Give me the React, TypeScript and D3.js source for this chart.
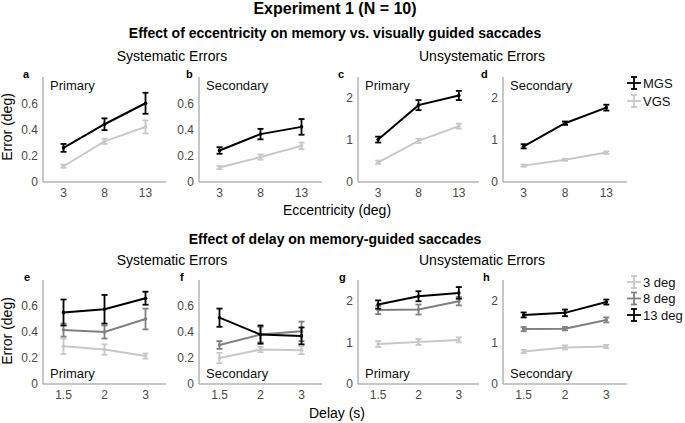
import React from 'react';
import * as d3 from 'd3';

// ---------- data ----------
const eccentricities = [3, 8, 13];
const eccTicks = [3, 8, 13];
const delayLabels = ['1.5', '2', '3'];
const eccSeriesNames = ['MGS', 'VGS'];
const delaySeriesNames = ['3 deg', '8 deg', '13 deg'];
const sysTicks = [0, 0.2, 0.4, 0.6];
const unsysTicks = [0, 1, 2];

// Top row: effect of eccentricity (MGS vs VGS)
const aMGS = [0.26, 0.44, 0.6];
const aMGSErr = [0.03, 0.045, 0.08];
const aVGS = [0.12, 0.31, 0.42];
const aVGSErr = [0.012, 0.02, 0.05];

const bMGS = [0.24, 0.365, 0.42];
const bMGSErr = [0.025, 0.04, 0.06];
const bVGS = [0.11, 0.19, 0.275];
const bVGSErr = [0.012, 0.02, 0.025];

const cMGS = [1.01, 1.83, 2.06];
const cMGSErr = [0.07, 0.12, 0.11];
const cVGS = [0.47, 0.98, 1.33];
const cVGSErr = [0.04, 0.05, 0.06];

const dMGS = [0.85, 1.4, 1.77];
const dMGSErr = [0.05, 0.04, 0.07];
const dVGS = [0.39, 0.53, 0.7];
const dVGSErr = [0.025, 0.025, 0.03];

// Bottom row: effect of delay (3, 8, 13 deg)
const e3 = [0.29, 0.265, 0.215];
const e3Err = [0.06, 0.04, 0.02];
const e8 = [0.415, 0.4, 0.5];
const e8Err = [0.05, 0.05, 0.08];
const e13 = [0.55, 0.575, 0.66];
const e13Err = [0.1, 0.11, 0.05];

const f3 = [0.2, 0.265, 0.26];
const f3Err = [0.04, 0.02, 0.03];
const f8 = [0.3, 0.38, 0.405];
const f8Err = [0.03, 0.06, 0.075];
const f13 = [0.51, 0.38, 0.37];
const f13Err = [0.07, 0.07, 0.065];

const g3 = [0.96, 1.01, 1.06];
const g3Err = [0.07, 0.07, 0.06];
const g8 = [1.78, 1.79, 1.99];
const g8Err = [0.1, 0.12, 0.1];
const g13 = [1.91, 2.11, 2.19];
const g13Err = [0.1, 0.12, 0.14];

const h3 = [0.78, 0.88, 0.9];
const h3Err = [0.04, 0.05, 0.04];
const h8 = [1.32, 1.33, 1.54];
const h8Err = [0.05, 0.04, 0.06];
const h13 = [1.66, 1.71, 1.97];
const h13Err = [0.06, 0.08, 0.06];

// ---------- styles ----------
const FONT = "'Liberation Sans', Arial, Helvetica, sans-serif";
const AXIS = '#8f8f8f';
const TICKTXT = '#4a4a4a';
const BLACK = '#000000';
const MID = '#808080';
const LIGHT = '#c8c8c8';

type Series = { name: string; color: string; vals: number[]; errs: number[] };
type Panel = {
  letter: string;
  letterX: number;
  x0: number;
  x1: number;
  top: number;
  bottom: number;
  ymax: number;
  yticks: number[];
  kind: 'ecc' | 'delay';
  label: string;
  labelTop: boolean;
  series: Series[];
};

const eccColors = [BLACK, LIGHT];
const delayColors = [LIGHT, MID, BLACK];

const mkEcc = (mgs: number[], mgsE: number[], vgs: number[], vgsE: number[]): Series[] => [
  { name: eccSeriesNames[1], color: eccColors[1], vals: vgs, errs: vgsE },
  { name: eccSeriesNames[0], color: eccColors[0], vals: mgs, errs: mgsE },
];
const mkDelay = (s3: number[], s3e: number[], s8: number[], s8e: number[], s13: number[], s13e: number[]): Series[] => [
  { name: delaySeriesNames[0], color: delayColors[0], vals: s3, errs: s3e },
  { name: delaySeriesNames[1], color: delayColors[1], vals: s8, errs: s8e },
  { name: delaySeriesNames[2], color: delayColors[2], vals: s13, errs: s13e },
];

const colsX = [
  [43, 166],
  [199, 322],
  [358, 479],
  [503, 627],
];
const topRow = { top: 77, bottom: 182 };
const botRow = { top: 280, bottom: 384 };

const panels: Panel[] = [
  { letter: 'a', letterX: 23, x0: colsX[0][0], x1: colsX[0][1], ...topRow, ymax: 0.8, yticks: sysTicks, kind: 'ecc', label: 'Primary', labelTop: true, series: mkEcc(aMGS, aMGSErr, aVGS, aVGSErr) },
  { letter: 'b', letterX: 186, x0: colsX[1][0], x1: colsX[1][1], ...topRow, ymax: 0.8, yticks: sysTicks, kind: 'ecc', label: 'Secondary', labelTop: true, series: mkEcc(bMGS, bMGSErr, bVGS, bVGSErr) },
  { letter: 'c', letterX: 338, x0: colsX[2][0], x1: colsX[2][1], ...topRow, ymax: 2.5, yticks: unsysTicks, kind: 'ecc', label: 'Primary', labelTop: true, series: mkEcc(cMGS, cMGSErr, cVGS, cVGSErr) },
  { letter: 'd', letterX: 481, x0: colsX[3][0], x1: colsX[3][1], ...topRow, ymax: 2.5, yticks: unsysTicks, kind: 'ecc', label: 'Secondary', labelTop: true, series: mkEcc(dMGS, dMGSErr, dVGS, dVGSErr) },
  { letter: 'e', letterX: 24, x0: colsX[0][0], x1: colsX[0][1], ...botRow, ymax: 0.8, yticks: sysTicks, kind: 'delay', label: 'Primary', labelTop: false, series: mkDelay(e3, e3Err, e8, e8Err, e13, e13Err) },
  { letter: 'f', letterX: 180, x0: colsX[1][0], x1: colsX[1][1], ...botRow, ymax: 0.8, yticks: sysTicks, kind: 'delay', label: 'Secondary', labelTop: false, series: mkDelay(f3, f3Err, f8, f8Err, f13, f13Err) },
  { letter: 'g', letterX: 339, x0: colsX[2][0], x1: colsX[2][1], ...botRow, ymax: 2.5, yticks: unsysTicks, kind: 'delay', label: 'Primary', labelTop: false, series: mkDelay(g3, g3Err, g8, g8Err, g13, g13Err) },
  { letter: 'h', letterX: 483, x0: colsX[3][0], x1: colsX[3][1], ...botRow, ymax: 2.5, yticks: unsysTicks, kind: 'delay', label: 'Secondary', labelTop: false, series: mkDelay(h3, h3Err, h8, h8Err, h13, h13Err) },
];

const fmtTick = (v: number) => (v === 0 ? '0' : d3.format('~g')(v));

function PanelView({ p }: { p: Panel }) {
  const y = d3.scaleLinear().domain([0, p.ymax]).range([p.bottom, p.top]);
  const xEcc = d3.scaleLinear().domain([0.5, 15.5]).range([p.x0, p.x1]);
  const xDelay = d3.scaleLinear().domain([0.5, 3.5]).range([p.x0, p.x1]);
  const xs: number[] =
    p.kind === 'ecc' ? eccentricities.map((e) => xEcc(e)) : delayLabels.map((_, i) => xDelay(i + 1));
  const tickXs = p.kind === 'ecc' ? eccTicks.map((e) => xEcc(e)) : delayLabels.map((_, i) => xDelay(i + 1));
  const tickLabels = p.kind === 'ecc' ? eccTicks.map(String) : delayLabels;
  const line = d3
    .line<number>()
    .x((_, i) => xs[i])
    .y((v) => y(v));
  const cap = 3;
  const labelY = p.labelTop ? p.top + 13 : p.bottom - 6;
  return (
    <g>
      <line x1={p.x0} x2={p.x0} y1={p.top} y2={p.bottom} stroke={AXIS} strokeWidth={1} />
      <line x1={p.x0} x2={p.x1} y1={p.bottom} y2={p.bottom} stroke={AXIS} strokeWidth={1} />
      {p.yticks.map((t) => (
        <text key={'y' + t} x={p.x0 - 5} y={y(t)} dy="0.36em" textAnchor="end" fontSize={12} fill={TICKTXT} fontFamily={FONT}>
          {fmtTick(t)}
        </text>
      ))}
      {tickXs.map((tx, i) => (
        <text key={'x' + i} x={tx} y={p.bottom + 15} textAnchor="middle" fontSize={12} fill={TICKTXT} fontFamily={FONT}>
          {tickLabels[i]}
        </text>
      ))}
      <text x={p.letterX} y={p.top + 1} fontSize={11} fontWeight="bold" fontFamily={FONT} fill="#000">
        {p.letter}
      </text>
      <text x={p.x0 + 7} y={labelY} fontSize={13} fontFamily={FONT} fill="#111">
        {p.label}
      </text>
      {p.series.map((s) => (
        <g key={s.name}>
          <path d={line(s.vals) || ''} fill="none" stroke={s.color} strokeWidth={2} />
          {s.vals.map((v, i) => (
            <g key={i} stroke={s.color} strokeWidth={1.8}>
              <line x1={xs[i]} x2={xs[i]} y1={y(v - s.errs[i])} y2={y(v + s.errs[i])} />
              <line x1={xs[i] - cap} x2={xs[i] + cap} y1={y(v - s.errs[i])} y2={y(v - s.errs[i])} />
              <line x1={xs[i] - cap} x2={xs[i] + cap} y1={y(v + s.errs[i])} y2={y(v + s.errs[i])} />
              <circle cx={xs[i]} cy={y(v)} r={1.8} fill={s.color} stroke="none" />
            </g>
          ))}
        </g>
      ))}
    </g>
  );
}

function LegendItem({ x, y, color, label }: { x: number; y: number; color: string; label: string }) {
  const mid = x + 7;
  return (
    <g>
      <g stroke={color} strokeWidth={1.8}>
        <line x1={x} x2={x + 14} y1={y} y2={y} />
        <line x1={mid} x2={mid} y1={y - 6} y2={y + 6} />
        <line x1={mid - 3} x2={mid + 3} y1={y - 6} y2={y - 6} />
        <line x1={mid - 3} x2={mid + 3} y1={y + 6} y2={y + 6} />
      </g>
      <text x={x + 16} y={y} dy="0.36em" fontSize={13} fontFamily={FONT} fill="#111">
        {label}
      </text>
    </g>
  );
}

export default function App() {
  const W = 685;
  const H = 423;
  const cx = 335;
  return (
    <svg width={W} height={H} style={{ position: 'absolute', left: 0, top: 0, background: '#fff' }}>
      <rect width={W} height={H} fill="#fff" />
      <text x={cx} y={14} textAnchor="middle" fontSize={16} fontWeight="bold" fontFamily={FONT}>
        Experiment 1 (N = 10)
      </text>
      <text x={cx} y={38} textAnchor="middle" fontSize={14} fontWeight="bold" fontFamily={FONT}>
        Effect of eccentricity on memory vs. visually guided saccades
      </text>
      <text x={172} y={61} textAnchor="middle" fontSize={14} fontFamily={FONT}>
        Systematic Errors
      </text>
      <text x={482} y={61} textAnchor="middle" fontSize={14} fontFamily={FONT}>
        Unsystematic Errors
      </text>
      <text x={337} y={215} textAnchor="middle" fontSize={14} fontFamily={FONT}>
        Eccentricity (deg)
      </text>
      <text x={cx} y={244} textAnchor="middle" fontSize={14} fontWeight="bold" fontFamily={FONT}>
        Effect of delay on memory-guided saccades
      </text>
      <text x={172} y={265} textAnchor="middle" fontSize={14} fontFamily={FONT}>
        Systematic Errors
      </text>
      <text x={482} y={265} textAnchor="middle" fontSize={14} fontFamily={FONT}>
        Unsystematic Errors
      </text>
      <text x={337} y={418} textAnchor="middle" fontSize={14} fontFamily={FONT}>
        Delay (s)
      </text>
      <text transform="translate(12,127) rotate(-90)" textAnchor="middle" fontSize={14} fontFamily={FONT}>
        Error (deg)
      </text>
      <text transform="translate(12,331) rotate(-90)" textAnchor="middle" fontSize={14} fontFamily={FONT}>
        Error (deg)
      </text>
      {panels.map((p) => (
        <PanelView key={p.letter} p={p} />
      ))}
      <LegendItem x={627} y={83} color={eccColors[0]} label={eccSeriesNames[0]} />
      <LegendItem x={627} y={101} color={eccColors[1]} label={eccSeriesNames[1]} />
      {delaySeriesNames.map((n, i) => (
        <LegendItem key={n} x={627} y={282 + i * 16.5} color={delayColors[i]} label={n} />
      ))}
    </svg>
  );
}
